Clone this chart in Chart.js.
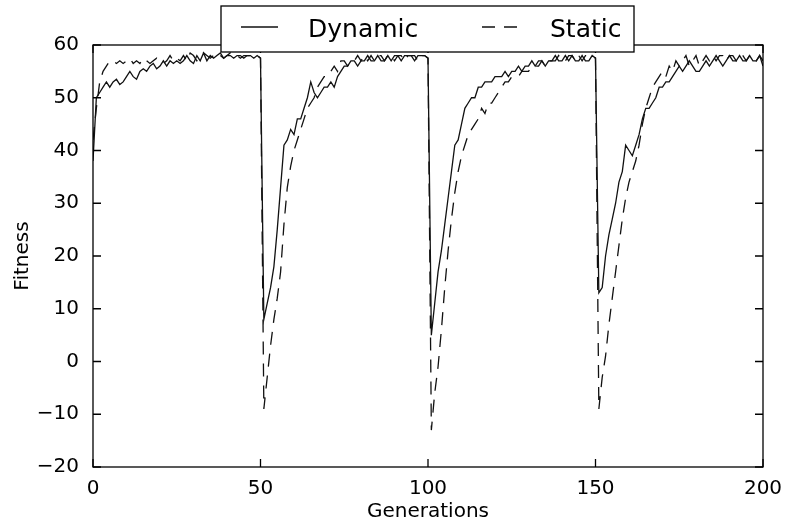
<!DOCTYPE html>
<html>
<head>
<meta charset="utf-8">
<script src="https://cdn.jsdelivr.net/npm/chart.js@4"></script>
<style>
  html, body { margin: 0; padding: 0; background: #fff; }
  #wrap { width: 787px; height: 524px; }
</style>
</head>
<body>
<div id="wrap"><canvas id="chart"></canvas></div>
<script>
// fitness per generation, 0..200

const dynamicFit = [
  38, 50, 51, 52, 53, 52, 53, 53.5, 52.5, 53,
  54, 55, 54, 53.5, 55, 55.5, 55, 56, 56.5, 55.5,
  56, 57, 56, 57, 56.5, 57, 56.5, 57, 58, 57,
  56.5, 58, 57, 58.5, 57, 58, 57.5, 58, 58.5, 57.5,
  58, 58, 57.5, 58, 58, 57.5, 58, 58, 57.5, 58,
  57.5, 8, 11, 14, 18, 25, 33, 41, 42, 44,
  43, 46, 46, 48, 50, 53, 51, 50, 51, 52,
  52, 53, 52, 54, 55, 56, 56, 57, 57, 56,
  57, 57, 58, 57, 57, 58, 57, 57, 58, 57,
  58, 58, 57, 58, 58, 58, 57, 58, 58, 58,
  57.5, 5, 11, 17, 21, 26, 31, 36, 41, 42,
  45, 48, 49, 50, 50, 52, 52, 53, 53, 53,
  54, 54, 54, 55, 54, 55, 55, 56, 55, 56,
  56, 57, 56, 57, 57, 56, 57, 57, 58, 57,
  57, 58, 57, 58, 57, 57, 58, 57, 57, 58,
  57.5, 13, 14, 20, 24, 27, 30, 34, 36, 41,
  40, 39, 41, 43, 46, 48, 48, 49, 50, 52,
  52, 53, 53, 54, 55, 56, 55, 56, 57, 56,
  55, 55, 56, 57, 56, 57, 58, 57, 56, 57,
  58, 57, 57, 58, 57, 57, 58, 57, 57, 58,
  56
];

const staticFit = [
  42, 48, 53, 55, 56, 57, 57, 56.5, 57, 56.5,
  57, 57.5, 56.5, 57, 56.5, 57.5, 57, 56.5, 57, 57.5,
  57, 56.5, 57, 58, 57, 57.5, 57, 58, 57, 58.5,
  58, 57, 58, 58.5, 58, 57.5, 58, 58.5, 58, 57.5,
  58, 58.5, 58, 58, 57.5, 58, 58, 58, 58, 58,
  57.5, -9, -3, 3, 8, 12, 17, 26, 33, 37,
  40, 42, 44, 46, 48, 49, 50, 52, 53, 54,
  54, 55, 56, 55, 57, 57, 56, 57, 57, 58,
  57, 58, 57, 58, 57, 58, 58, 57, 58, 58,
  57, 58, 58, 57, 58, 58, 58, 57, 58, 58,
  57.5, -13, -6, -1, 6, 14, 21, 27, 32, 36,
  39, 41, 43, 44, 45, 46, 48, 47, 49, 49,
  50, 51, 52, 53, 53, 54, 54, 54, 55, 55,
  55, 56, 56, 56, 57, 56, 57, 57, 57, 58,
  57, 57, 58, 58, 57, 58, 57, 58, 58, 58,
  57.5, -9, -3, 1, 7, 12, 17, 22, 27, 31,
  34, 36, 38, 41, 45, 48, 50, 52, 53, 54,
  55, 54, 56, 55, 57, 56, 57, 58, 56, 57,
  58, 56, 57, 58, 57, 58, 57, 58, 58, 57,
  58, 58, 57, 58, 58, 57, 58, 58, 57, 58,
  57
];

const xTicks = [0, 50, 100, 150, 200];
const yTicks = [-20, -10, 0, 10, 20, 30, 40, 50, 60];

const FONT = 'DejaVu Sans';
const DASH = [13, 9];

const toPoints = arr => arr.map((v, i) => ({x: i, y: v}));

// matplotlib style box with inward ticks on all four sides
const frame = {
  id: 'frame',
  afterDatasetsDraw(chart) {
    const {ctx, chartArea: a, scales: {x, y}} = chart;
    ctx.save();
    ctx.strokeStyle = '#000';
    ctx.lineWidth = 1.3;
    ctx.strokeRect(a.left, a.top, a.right - a.left, a.bottom - a.top);
    ctx.beginPath();
    xTicks.forEach(v => {
      const px = x.getPixelForValue(v);
      ctx.moveTo(px, a.bottom); ctx.lineTo(px, a.bottom - 8);
      ctx.moveTo(px, a.top); ctx.lineTo(px, a.top + 8);
    });
    yTicks.forEach(v => {
      const py = y.getPixelForValue(v);
      ctx.moveTo(a.left, py); ctx.lineTo(a.left + 8, py);
      ctx.moveTo(a.right, py); ctx.lineTo(a.right - 8, py);
    });
    ctx.stroke();
    ctx.restore();
  }
};

// legend box sitting over the top edge
const legendBox = {
  id: 'legendBox',
  afterDraw(chart) {
    const ctx = chart.ctx;
    const sets = chart.data.datasets;
    ctx.save();
    ctx.fillStyle = '#fff';
    ctx.fillRect(221, 6, 413, 46);
    ctx.strokeStyle = '#000';
    ctx.lineWidth = 1.3;
    ctx.strokeRect(221, 6, 413, 46);

    const items = [
      {x1: 241, x2: 278, tx: 308},
      {x1: 482, x2: 517, tx: 550}
    ];
    ctx.font = '25px "' + FONT + '"';
    ctx.textBaseline = 'alphabetic';
    items.forEach((it, i) => {
      const ds = sets[i];
      ctx.strokeStyle = ds.borderColor;
      ctx.lineWidth = ds.borderWidth;
      ctx.setLineDash(ds.borderDash || []);
      ctx.beginPath();
      ctx.moveTo(it.x1, 27); ctx.lineTo(it.x2, 27);
      ctx.stroke();
      ctx.setLineDash([]);
      ctx.fillStyle = '#000';
      ctx.fillText(ds.label, it.tx, 37);
    });
    ctx.restore();
  }
};

const ctx = document.getElementById('chart');

new Chart(ctx, {
  type: 'line',
  data: {
    datasets: [{
      label: 'Dynamic',
      data: toPoints(dynamicFit),
      borderColor: '#111',
      borderWidth: 1.3,
      pointRadius: 0,
      tension: 0
    }, {
      label: 'Static',
      data: toPoints(staticFit),
      borderColor: '#111',
      borderWidth: 1.3,
      borderDash: DASH,
      pointRadius: 0,
      tension: 0
    }]
  },
  options: {
    responsive: true,
    maintainAspectRatio: false,
    animation: false,
    layout: { padding: { top: 45, right: 24, left: 0, bottom: 0 } },
    plugins: {
      legend: { display: false },
      tooltip: { enabled: false }
    },
    scales: {
      x: {
        type: 'linear',
        min: 0,
        max: 200,
        afterBuildTicks: s => { s.ticks = xTicks.map(v => ({value: v})); },
        afterFit: s => { s.height = 57; },
        grid: { display: false },
        border: { display: false },
        ticks: {
          color: '#000',
          padding: 2,
          maxRotation: 0,
          autoSkip: false,
          font: { family: FONT, size: 20 }
        },
        title: {
          display: true,
          text: 'Generations',
          color: '#000',
          padding: { top: 0, bottom: 0 },
          font: { family: FONT, size: 20 }
        }
      },
      y: {
        min: -20,
        max: 60,
        afterBuildTicks: s => { s.ticks = yTicks.map(v => ({value: v})); },
        afterFit: s => { s.width = 93; },
        grid: { display: false },
        border: { display: false },
        ticks: {
          color: '#000',
          padding: 6,
          font: { family: FONT, size: 20 },
          callback: v => String(v).replace('-', '\u2212')
        },
        title: {
          display: true,
          text: 'Fitness',
          color: '#000',
          padding: { top: 11, bottom: 0 },
          font: { family: FONT, size: 20 }
        }
      }
    }
  },
  plugins: [frame, legendBox]
});
</script>
</body>
</html>
